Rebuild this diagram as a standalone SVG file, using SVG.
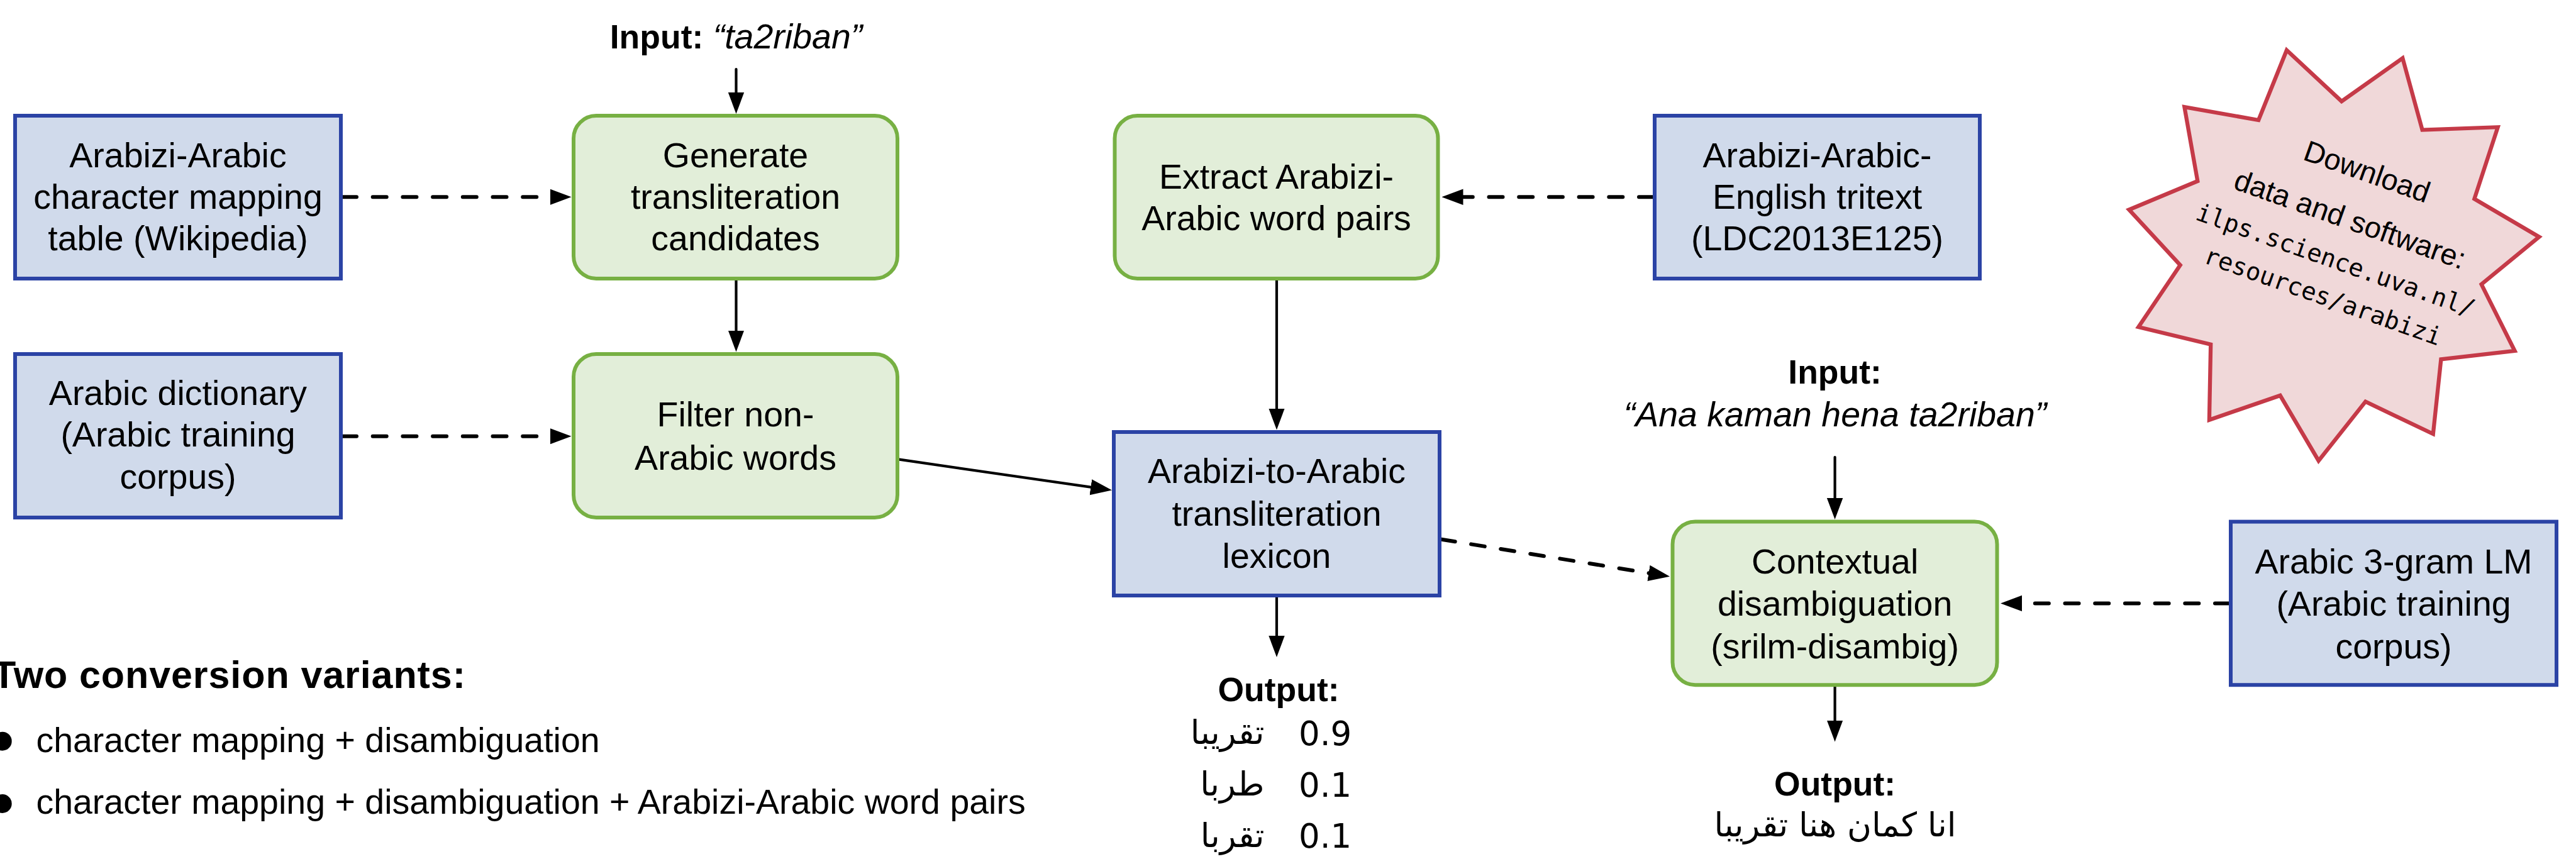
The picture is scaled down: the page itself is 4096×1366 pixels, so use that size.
<svg xmlns="http://www.w3.org/2000/svg" width="4096" height="1366" viewBox="0 0 4096 1366">
  <defs>
    <style>
      .blue { fill: #D0DAEB; stroke: #2B43A5; stroke-width: 6; }
      .green { fill: #E2EED9; stroke: #77B043; stroke-width: 6; }
      .star { fill: #F0D8D9; stroke: #C53A48; stroke-width: 6.3; stroke-linejoin: miter; }
      .t { font-family: "Liberation Sans", Arial, Helvetica, sans-serif; font-size: 55.5px; fill: #000; text-anchor: middle; }
      .bold { font-weight: bold; font-size: 53.5px; }
      .ital { font-style: italic; font-size: 55.5px; font-weight: normal; }
      .ar { font-family: "DejaVu Sans", sans-serif; font-size: 53px; fill: #000; }
      .mono { font-family: "DejaVu Sans Mono", "Liberation Mono", monospace; font-size: 38.8px; fill: #000; text-anchor: middle; }
      .solid { fill: none; stroke: #000; stroke-width: 4.2; stroke-linecap: round; }
      .dash { fill: none; stroke: #000; stroke-width: 6; stroke-linecap: round; stroke-dasharray: 22 25.7; }
    </style>
    <marker id="ah" markerUnits="userSpaceOnUse" markerWidth="34" markerHeight="26" viewBox="0 0 34 26" refX="14" refY="13" orient="auto">
      <path d="M0,0.3 L34,13 L0,25.7 z" fill="#000"/>
    </marker>
  </defs>

  <rect width="4096" height="1366" fill="#fff"/>

  <!-- connectors -->
  <g id="connectors">
    <path class="solid" d="M1170.5,110 L1170.5,161" marker-end="url(#ah)"/>
    <path class="dash" d="M545,313.3 L888.5,313.3" marker-end="url(#ah)"/>
    <path class="solid" d="M1170.5,446 L1170.5,539.5" marker-end="url(#ah)"/>
    <path class="dash" d="M545,693.8 L888.5,693.8" marker-end="url(#ah)"/>
    <path class="solid" d="M1430,730.7 L1748.2,776.7" marker-end="url(#ah)"/>
    <path class="dash" d="M2628,313.3 L2312.5,313.3" marker-end="url(#ah)"/>
    <path class="solid" d="M2030,446 L2030,663.5" marker-end="url(#ah)"/>
    <path class="solid" d="M2030,950 L2030,1025" marker-end="url(#ah)"/>
    <path class="dash" d="M2292,857.7 L2635.3,913.6" marker-end="url(#ah)"/>
    <path class="solid" d="M2917.6,727 L2917.6,806" marker-end="url(#ah)"/>
    <path class="solid" d="M2917.6,1092 L2917.6,1159.5" marker-end="url(#ah)"/>
    <path class="dash" d="M3544,959.4 L3201,959.4" marker-end="url(#ah)"/>
  </g>

  <!-- free labels -->
  <g id="input-word">
    <text class="t" x="1170.5" y="76.8"><tspan class="bold">Input:</tspan> <tspan class="ital">“ta2riban”</tspan></text>
  </g>

  <g id="input-sentence">
    <text class="t bold" x="2917.6" y="610.2">Input:</text>
    <text class="t ital" x="2918" y="678.1">“Ana kaman hena ta2riban”</text>
  </g>

  <g id="lexicon-output">
    <text class="t bold" x="2033" y="1115.3">Output:</text>
    <text class="ar" x="2010.5" y="1183" text-anchor="end">تقريبا</text>
    <text class="ar" x="2065" y="1184.5">0.9</text>
    <text class="ar" x="2010.5" y="1265" text-anchor="end">طربا</text>
    <text class="ar" x="2065" y="1266.5">0.1</text>
    <text class="ar" x="2010.5" y="1347" text-anchor="end">تقربا</text>
    <text class="ar" x="2065" y="1348">0.1</text>
  </g>

  <g id="final-output">
    <text class="t bold" x="2917.6" y="1264.5">Output:</text>
    <text class="ar" x="2918" y="1330" text-anchor="middle">انا كمان هنا تقريبا</text>
  </g>

  <!-- nodes -->
  <g id="mapping-table">
    <rect class="blue" x="24" y="184" width="518" height="259"/>
    <text class="t" x="283" y="265.5">Arabizi-Arabic</text>
    <text class="t" x="283" y="331.5">character mapping</text>
    <text class="t" x="283" y="398">table (Wikipedia)</text>
  </g>

  <g id="arabic-dictionary">
    <rect class="blue" x="24" y="563" width="518" height="260"/>
    <text class="t" x="283" y="643.5">Arabic dictionary</text>
    <text class="t" x="283" y="710">(Arabic training</text>
    <text class="t" x="283" y="776.5">corpus)</text>
  </g>

  <g id="generate-candidates">
    <rect class="green" x="912" y="184" width="515" height="259" rx="36" ry="36"/>
    <text class="t" x="1169.5" y="265.5">Generate</text>
    <text class="t" x="1169.5" y="331.5">transliteration</text>
    <text class="t" x="1169.5" y="398">candidates</text>
  </g>

  <g id="filter-non-arabic">
    <rect class="green" x="912" y="563" width="515" height="260" rx="36" ry="36"/>
    <text class="t" x="1169.5" y="678">Filter non-</text>
    <text class="t" x="1169.5" y="746.5">Arabic words</text>
  </g>

  <g id="extract-word-pairs">
    <rect class="green" x="1772.5" y="184" width="514" height="259" rx="36" ry="36"/>
    <text class="t" x="2029.5" y="300">Extract Arabizi-</text>
    <text class="t" x="2029.5" y="365.5">Arabic word pairs</text>
  </g>

  <g id="tritext">
    <rect class="blue" x="2631" y="184" width="517" height="259"/>
    <text class="t" x="2889.5" y="265.5">Arabizi-Arabic-</text>
    <text class="t" x="2889.5" y="331.5">English tritext</text>
    <text class="t" x="2889.5" y="398">(LDC2013E125)</text>
  </g>

  <g id="lexicon">
    <rect class="blue" x="1771" y="687" width="518" height="260"/>
    <text class="t" x="2030" y="767.6">Arabizi-to-Arabic</text>
    <text class="t" x="2030" y="835.5">transliteration</text>
    <text class="t" x="2030" y="903.4">lexicon</text>
  </g>

  <g id="contextual-disambiguation">
    <rect class="green" x="2659.5" y="829.6" width="516" height="259.6" rx="36" ry="36"/>
    <text class="t" x="2917.6" y="912.4">Contextual</text>
    <text class="t" x="2917.6" y="978.8">disambiguation</text>
    <text class="t" x="2917.6" y="1047.4">(srilm-disambig)</text>
  </g>

  <g id="language-model">
    <rect class="blue" x="3547" y="829.6" width="518" height="259.6"/>
    <text class="t" x="3806" y="912.4">Arabic 3-gram LM</text>
    <text class="t" x="3806" y="978.8">(Arabic training</text>
    <text class="t" x="3806" y="1047.4">corpus)</text>
  </g>

  <g id="download-star">
    <polygon class="star" points="3636,79.8 3723.3,161.1 3820.3,92.5 3851.6,206.6 3971.7,202.2 3934.4,316.3 4037.4,376.7 3945.6,452.1 3998.6,558 3881.4,571.4 3868.8,690.1 3761.3,638.6 3686.7,732.6 3625.6,628.9 3512.9,667.7 3515.2,547.6 3400.3,520 3466.7,421.5 3385.3,333.5 3494.3,288 3473.4,170.1 3591.2,191"/>
    <g transform="translate(3731.5,364) rotate(19.5)">
      <text class="t" x="0" y="-80.6" style="font-size:47px">Download</text>
      <text class="t" x="0" y="0" style="font-size:47px">data and software:</text>
      <text class="mono" x="0" y="66.4">ilps.science.uva.nl/</text>
      <text class="mono" x="0" y="126.8">resources/arabizi</text>
    </g>
  </g>

  <!-- variants list -->
  <g id="variants">
    <text x="-12" y="1093.6" style="font-family:'Liberation Sans', Arial, sans-serif; font-weight:bold; font-size:61px" textLength="752" lengthAdjust="spacing">Two conversion variants:</text>
    <circle cx="3.7" cy="1178.7" r="15"/>
    <text x="57.4" y="1195.8" class="t" style="text-anchor:start">character mapping + disambiguation</text>
    <circle cx="3.7" cy="1278" r="15"/>
    <text x="57.4" y="1294.3" class="t" style="text-anchor:start">character mapping + disambiguation + Arabizi-Arabic word pairs</text>
  </g>
</svg>
